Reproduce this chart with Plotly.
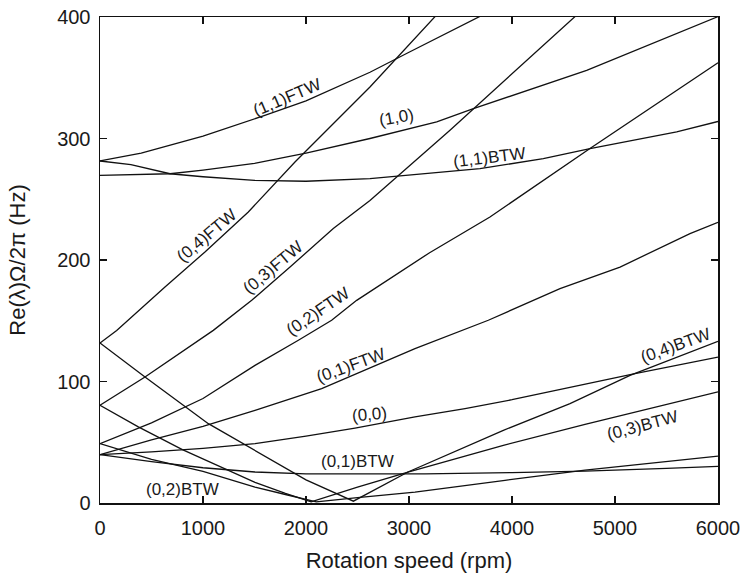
import plotly.graph_objects as go

# ---- data (rotation speed in rpm, frequency in Hz) ----
ftw11_x = [0, 400, 1000, 1600, 2000, 2621, 3000, 3700]
ftw11_y = [281.5, 288, 302, 319, 331, 354.5, 371, 401]

m10_x = [0, 680, 1000, 1500, 1828, 2000, 2621, 3269, 3625, 4304, 4725, 6000]
m10_y = [269.7, 271, 274, 279.5, 285, 288, 300, 313.6, 324.6, 343.8, 356, 400.3]

btw11_x = [0, 300, 680, 1000, 1500, 2000, 2621, 2896, 3689, 4304, 4757, 5599, 6000]
btw11_y = [281.5, 278.5, 271, 268.5, 265.5, 264.8, 267, 269, 275.2, 283.4, 291.7, 305.4, 314]

ftw04_x = [0, 162, 631, 1019, 1440, 1731, 1893, 2621, 3260]
ftw04_y = [131.7, 142, 177.8, 206.6, 239.5, 265.6, 280.7, 342.4, 401]

ftw03_x = [0, 437, 1100, 1473, 1845, 2265, 2621, 2880, 3398, 4620]
ftw03_y = [80.4, 103.7, 142.1, 166.8, 194.2, 226, 249, 268.3, 306.8, 401]

ftw02_x = [0, 500, 1000, 1505, 1926, 2249, 2492, 3200, 3786, 4757, 6000]
ftw02_y = [48.9, 66, 86, 113.3, 133.9, 150.4, 166.8, 206, 235.4, 291.7, 362.3]

ftw01_x = [0, 500, 1000, 1505, 2152, 3058, 3770, 4466, 5049, 5728, 6000]
ftw01_y = [39.8, 52, 63, 76.3, 94.2, 127.1, 150.4, 176.5, 194.2, 221.7, 231]

m00_x = [0, 500, 1000, 1505, 2000, 2476, 3058, 3544, 4000, 4709, 5194, 6000]
m00_y = [39.8, 42, 45, 48.9, 55, 61.7, 70.8, 77.7, 85, 97.7, 106.5, 120]

btw04_x = [0, 437, 1052, 1505, 2000, 2460, 2990, 3916, 4563, 5146, 6000]
btw04_y = [131.7, 103.7, 65.3, 43, 19, 1.5, 25.5, 59.8, 81.8, 105, 133]

btw03_x = [0, 372, 800, 1214, 1505, 1800, 2050, 2500, 2990, 3916, 4709, 6000]
btw03_y = [80.4, 62.6, 44, 28.3, 17, 8, 1, 13, 25.5, 47.5, 64.8, 91.5]

btw02_x = [0, 500, 1000, 1505, 1800, 2100, 2500, 3058, 3932, 4709, 6000]
btw02_y = [48.9, 36, 26, 13, 7, 1, 4.5, 9, 18.7, 27, 38.5]

btw01_x = [0, 500, 1000, 1505, 2000, 2500, 3155, 4000, 4709, 5500, 6000]
btw01_y = [39.8, 34, 29, 25.5, 24, 23.8, 24, 25, 26.3, 28.5, 30.2]

series = [
    ("(1,1)FTW", ftw11_x, ftw11_y),
    ("(1,0)", m10_x, m10_y),
    ("(1,1)BTW", btw11_x, btw11_y),
    ("(0,4)FTW", ftw04_x, ftw04_y),
    ("(0,3)FTW", ftw03_x, ftw03_y),
    ("(0,2)FTW", ftw02_x, ftw02_y),
    ("(0,1)FTW", ftw01_x, ftw01_y),
    ("(0,0)", m00_x, m00_y),
    ("(0,4)BTW", btw04_x, btw04_y),
    ("(0,3)BTW", btw03_x, btw03_y),
    ("(0,2)BTW", btw02_x, btw02_y),
    ("(0,1)BTW", btw01_x, btw01_y),
]

# curve labels: text, x (rpm), y (Hz), angle
label_text = ["(1,1)FTW", "(1,0)", "(1,1)BTW", "(0,4)FTW", "(0,3)FTW", "(0,2)FTW",
              "(0,1)FTW", "(0,0)", "(0,1)BTW", "(0,2)BTW", "(0,4)BTW", "(0,3)BTW"]
label_x = [1816, 2879, 3786, 1039, 1680, 2117, 2437, 2621, 2500, 801, 5592, 5267]
label_y = [334, 317, 284.5, 220, 194, 157.6, 113, 72.6, 34, 10.9, 129.8, 64]
label_angle = [-23, -10, -7, -40, -40, -34, -20, -5, 0, 0, -20, -15]

x_ticks = [0, 1000, 2000, 3000, 4000, 5000, 6000]
y_ticks = [0, 100, 200, 300, 400]

fig = go.Figure()
for name, xs, ys in series:
    fig.add_trace(go.Scatter(x=xs, y=ys, mode="lines", name=name,
                             line=dict(color="#111111", width=1.3)))

for t, lx, ly, ang in zip(label_text, label_x, label_y, label_angle):
    fig.add_annotation(x=lx, y=ly, xref="x", yref="y", text=t, showarrow=False,
                       textangle=ang, font=dict(size=17, color="#1a1a1a"))

axis_common = dict(showline=True, linecolor="#111111", linewidth=1.5, mirror="ticks",
                   ticks="inside", ticklen=7, tickwidth=1.2, tickcolor="#111111",
                   showgrid=False, zeroline=False, automargin=False,
                   ticklabeloverflow="allow",
                   tickfont=dict(size=20, color="#1a1a1a"))

fig.update_xaxes(range=[0, 6000], tickvals=x_ticks, ticklabelstandoff=6,
                 title=dict(text="Rotation speed (rpm)", font=dict(size=22, color="#1a1a1a"), standoff=15),
                 **axis_common)
fig.update_yaxes(range=[0, 400], tickvals=y_ticks, ticklabelstandoff=4,
                 title=dict(text="Re(λ)Ω/2π (Hz)", font=dict(size=22, color="#1a1a1a"), standoff=25),
                 **axis_common)

fig.update_layout(width=741, height=574, margin=dict(l=100, r=23, t=17, b=71),
                  plot_bgcolor="white", paper_bgcolor="white", showlegend=False,
                  hovermode=False,
                  font=dict(family="Liberation Sans, Arial, sans-serif", color="#1a1a1a"))

fig.write_html("out.html", config={"displayModeBar": False, "staticPlot": True},
               post_script="document.body.style.margin='0';document.body.style.overflow='hidden';")
